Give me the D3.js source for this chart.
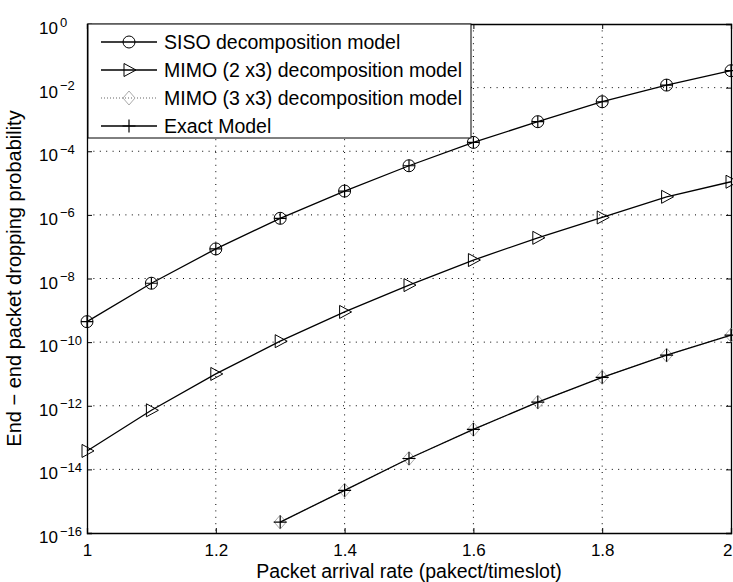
<!DOCTYPE html>
<html>
<head>
<meta charset="utf-8">
<script src="https://cdn.jsdelivr.net/npm/d3@7"></script>
<style>
  body { margin: 0; background: #fff; }
  svg text { font-family: "Liberation Sans", Arial, Helvetica, sans-serif; fill: #000; }
</style>
</head>
<body>
<svg id="chart" width="733" height="582"></svg>
<script>
// packet arrival rate (pakect/timeslot)
const rates = [1.0, 1.1, 1.2, 1.3, 1.4, 1.5, 1.6, 1.7, 1.8, 1.9, 2.0];
const sisoValues = [4.4e-10, 7.1e-9, 8.5e-8, 7.8e-7, 5.6e-6, 3.5e-5, 1.9e-4, 8.5e-4, 3.6e-3, 1.2e-2, 3.4e-2];
const mimo23Values = [3.8e-14, 7.2e-13, 1.0e-11, 1.07e-10, 8.9e-10, 6.2e-9, 3.8e-8, 1.9e-7, 8.3e-7, 3.7e-6, 1.1e-5];
// 3x3 and exact curves start at 1.3
const exactRates = [1.3, 1.4, 1.5, 1.6, 1.7, 1.8, 1.9, 2.0];
const mimo33Values = [2.2e-16, 2.2e-15, 2.2e-14, 1.8e-13, 1.3e-12, 7.8e-12, 3.9e-11, 1.66e-10];
const exactValues = [2.2e-16, 2.2e-15, 2.2e-14, 1.8e-13, 1.3e-12, 7.8e-12, 3.9e-11, 1.66e-10];

const xTicks = [1, 1.2, 1.4, 1.6, 1.8, 2];
const xTickLabels = ["1", "1.2", "1.4", "1.6", "1.8", "2"];
const yExponents = [0, -2, -4, -6, -8, -10, -12, -14, -16];
const legendLabels = ["SISO decomposition model", "MIMO (2 x3) decomposition model",
  "MIMO (3 x3) decomposition model", "Exact Model"];

const svg = d3.select("#chart");
const mLeft = 87, mRight = 731, mTop = 24, mBottom = 533;

const x = d3.scaleLinear().domain([1, 2]).range([mLeft, mRight]);
const y = d3.scaleLog().domain([1e-16, 1]).range([mBottom, mTop]);
const yTicks = yExponents.map(e => Math.pow(10, e));

// dotted grid
const grid = svg.append("g").attr("stroke", "#000").attr("stroke-width", 1)
  .attr("stroke-dasharray", "1,5.4");
grid.selectAll("line.gx").data(xTicks.slice(1, -1)).enter().append("line")
  .attr("x1", d => x(d)).attr("x2", d => x(d)).attr("y1", mTop).attr("y2", mBottom);
grid.selectAll("line.gy").data(yTicks.slice(1, -1)).enter().append("line")
  .attr("y1", d => y(d)).attr("y2", d => y(d)).attr("x1", mLeft).attr("x2", mRight);

// axes with inward ticks on all four sides
const xAxis = svg.append("g").attr("transform", `translate(0,${mBottom})`)
  .call(d3.axisBottom(x).tickValues(xTicks).tickSize(-5).tickPadding(11)
    .tickFormat((d, i) => xTickLabels[i]));
svg.append("g").attr("transform", `translate(0,${mTop})`)
  .call(d3.axisTop(x).tickValues(xTicks).tickSize(-5).tickFormat(""));
const yAxis = svg.append("g").attr("transform", `translate(${mLeft},0)`)
  .call(d3.axisLeft(y).tickValues(yTicks).tickSize(-5).tickFormat(""));
svg.append("g").attr("transform", `translate(${mRight},0)`)
  .call(d3.axisRight(y).tickValues(yTicks).tickSize(-5).tickFormat(""));

svg.selectAll(".domain").attr("stroke", "#000").attr("stroke-width", 1.3);
svg.selectAll(".tick line").attr("stroke", "#000");
xAxis.selectAll("text").attr("font-size", 17);
// keep the last label inside the page edge
xAxis.selectAll(".tick text").filter(d => d === 2).attr("text-anchor", "end").attr("dx", 1);

// y tick labels as 10 with superscript exponent
yAxis.selectAll(".tick").each(function(d, i) {
  const t = d3.select(this).append("text")
    .attr("x", 39 - mLeft).attr("y", 9.5)
    .attr("text-anchor", "start").attr("font-size", 17).attr("fill", "#000");
  t.append("tspan").text("10");
  t.append("tspan").attr("dx", 2).attr("dy", -7.5).attr("font-size", 13)
    .text(yExponents[i] === 0 ? "0" : "\u2212" + Math.abs(yExponents[i]));
});

// axis titles
svg.append("text").attr("x", (mLeft + mRight) / 2).attr("y", 578)
  .attr("text-anchor", "middle").attr("font-size", 19.5)
  .text("Packet arrival rate (pakect/timeslot)");
svg.append("text").attr("transform", `translate(21,${(mTop + mBottom) / 2}) rotate(-90)`)
  .attr("text-anchor", "middle").attr("font-size", 20)
  .text("End \u2212 end packet dropping probability");

// markers
function circleMark(g, cx, cy, withPlus) {
  g.append("circle").attr("cx", cx).attr("cy", cy).attr("r", 6)
    .attr("fill", "none").attr("stroke", "#000").attr("stroke-width", 1);
  if (withPlus) plusMark(g, cx, cy, 6, "#000");
}
function triMark(g, cx, cy) {
  g.append("path").attr("d", `M${cx - 5},${cy - 6.5}L${cx + 7},${cy}L${cx - 5},${cy + 6.5}Z`)
    .attr("fill", "none").attr("stroke", "#000").attr("stroke-width", 1);
}
function diamondMark(g, cx, cy) {
  g.append("path").attr("d", `M${cx},${cy - 7}L${cx + 6},${cy}L${cx},${cy + 7}L${cx - 6},${cy}Z`)
    .attr("fill", "none").attr("stroke", "#aaa").attr("stroke-width", 1);
}
function plusMark(g, cx, cy, s, col) {
  g.append("path").attr("d", `M${cx - s},${cy}H${cx + s}M${cx},${cy - s}V${cy + s}`)
    .attr("fill", "none").attr("stroke", col).attr("stroke-width", 1.2);
}

const line = d3.line().x(d => x(d[0])).y(d => y(d[1]));
const series = [
  { xs: rates, vals: sisoValues, color: "#000", dash: null, mark: (g, a, b) => circleMark(g, a, b, true) },
  { xs: rates, vals: mimo23Values, color: "#000", dash: null, mark: triMark },
  { xs: exactRates, vals: mimo33Values, color: "#999", dash: "1,2", mark: diamondMark },
  { xs: exactRates, vals: exactValues, color: "#000", dash: null, mark: (g, a, b) => plusMark(g, a, b, 6.5, "#000") }
];

const plot = svg.append("g");
series.forEach(s => {
  const pts = s.xs.map((v, i) => [v, s.vals[i]]);
  plot.append("path").attr("d", line(pts)).attr("fill", "none")
    .attr("stroke", s.color).attr("stroke-width", 1.3)
    .attr("stroke-dasharray", s.dash);
  pts.forEach(p => s.mark(plot, x(p[0]), y(p[1])));
});

// legend
const lg = svg.append("g");
lg.append("rect").attr("x", 88).attr("y", mTop).attr("width", 383).attr("height", 114)
  .attr("fill", "#fff").attr("stroke", "#000").attr("stroke-width", 1);
const rowY = [42, 70, 98, 126];
const legendMarks = [
  (g, a, b) => circleMark(g, a, b, false), triMark, diamondMark,
  (g, a, b) => plusMark(g, a, b, 6.5, "#000")
];
legendLabels.forEach((name, i) => {
  const s = series[i];
  lg.append("line").attr("x1", 101).attr("x2", 157).attr("y1", rowY[i]).attr("y2", rowY[i])
    .attr("stroke", s.color).attr("stroke-width", 1.3).attr("stroke-dasharray", s.dash);
  legendMarks[i](lg, 129, rowY[i]);
  lg.append("text").attr("x", 164).attr("y", rowY[i] + 7).attr("font-size", 19.5).text(name);
});
</script>
</body>
</html>
